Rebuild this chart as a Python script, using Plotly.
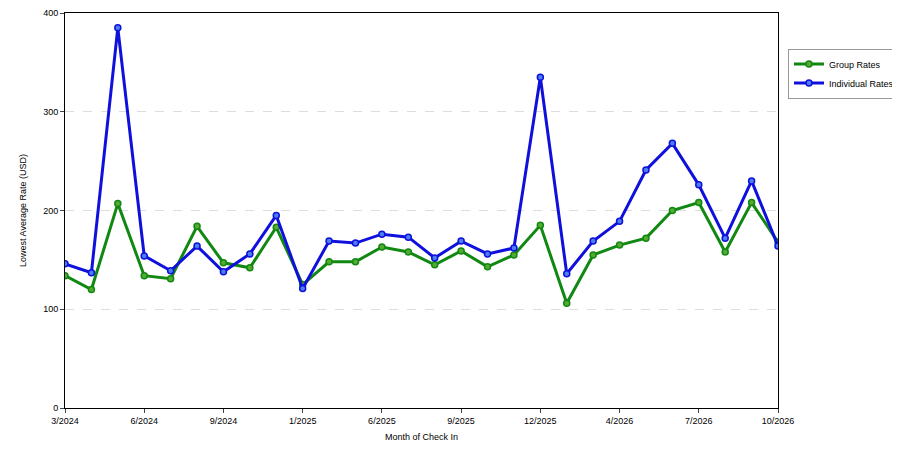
import plotly.graph_objects as go

months = ["3/2024", "4/2024", "5/2024", "6/2024", "7/2024", "8/2024", "9/2024",
          "10/2024", "11/2024", "1/2025", "2/2025", "3/2025", "6/2025", "7/2025",
          "8/2025", "9/2025", "10/2025", "11/2025", "12/2025", "2/2026", "3/2026",
          "4/2026", "5/2026", "6/2026", "7/2026", "8/2026", "9/2026", "10/2026"]
group_rates = [134, 120, 207, 134, 131, 184, 147, 142, 183, 125, 148, 148, 163, 158,
               145, 159, 143, 155, 185, 106, 155, 165, 172, 200, 208, 158, 208, 168]
individual_rates = [146, 137, 385, 154, 139, 164, 138, 156, 195, 121, 169, 167, 176, 173,
                    152, 169, 156, 162, 335, 136, 169, 189, 241, 268, 226, 172, 230, 164]
tick_labels = months[::3]

fig = go.Figure()
fig.add_trace(go.Scatter(
    x=months, y=group_rates, name="Group Rates", mode="lines+markers",
    line=dict(color="#118811", width=3),
    marker=dict(size=6, color="#55aa33", line=dict(color="#118811", width=1.5))))
fig.add_trace(go.Scatter(
    x=months, y=individual_rates, name="Individual Rates", mode="lines+markers",
    line=dict(color="#1010dd", width=3),
    marker=dict(size=6, color="#4a7ff0", line=dict(color="#1010dd", width=1.5))))

fig.update_layout(
    width=900, height=450, plot_bgcolor="white", paper_bgcolor="white",
    margin=dict(l=57, r=130, t=5, b=50, autoexpand=False),
    font=dict(family="Liberation Sans, Arial", size=9, color="black"),
    legend=dict(x=1.014, y=0.91, xanchor="left", yanchor="top",
                bordercolor="#999999", borderwidth=1, font=dict(size=9)),
    xaxis=dict(type="category", tickmode="array", tickvals=tick_labels,
               ticktext=tick_labels, showline=True, linecolor="black",
               mirror=True, ticks="outside", ticklen=4, showgrid=False,
               range=[0, len(months) - 1], automargin=False,
               title=dict(text="Month of Check In", font=dict(size=9), standoff=8)),
    yaxis=dict(range=[0, 400], dtick=100, showline=True, linecolor="black",
               mirror=True, ticks="outside", ticklen=4, gridcolor="#dddddd",
               griddash="dash", zeroline=False, automargin=False,
               title=dict(text="Lowest Average Rate (USD)", font=dict(size=9))),
)

fig.write_html("out.html")
